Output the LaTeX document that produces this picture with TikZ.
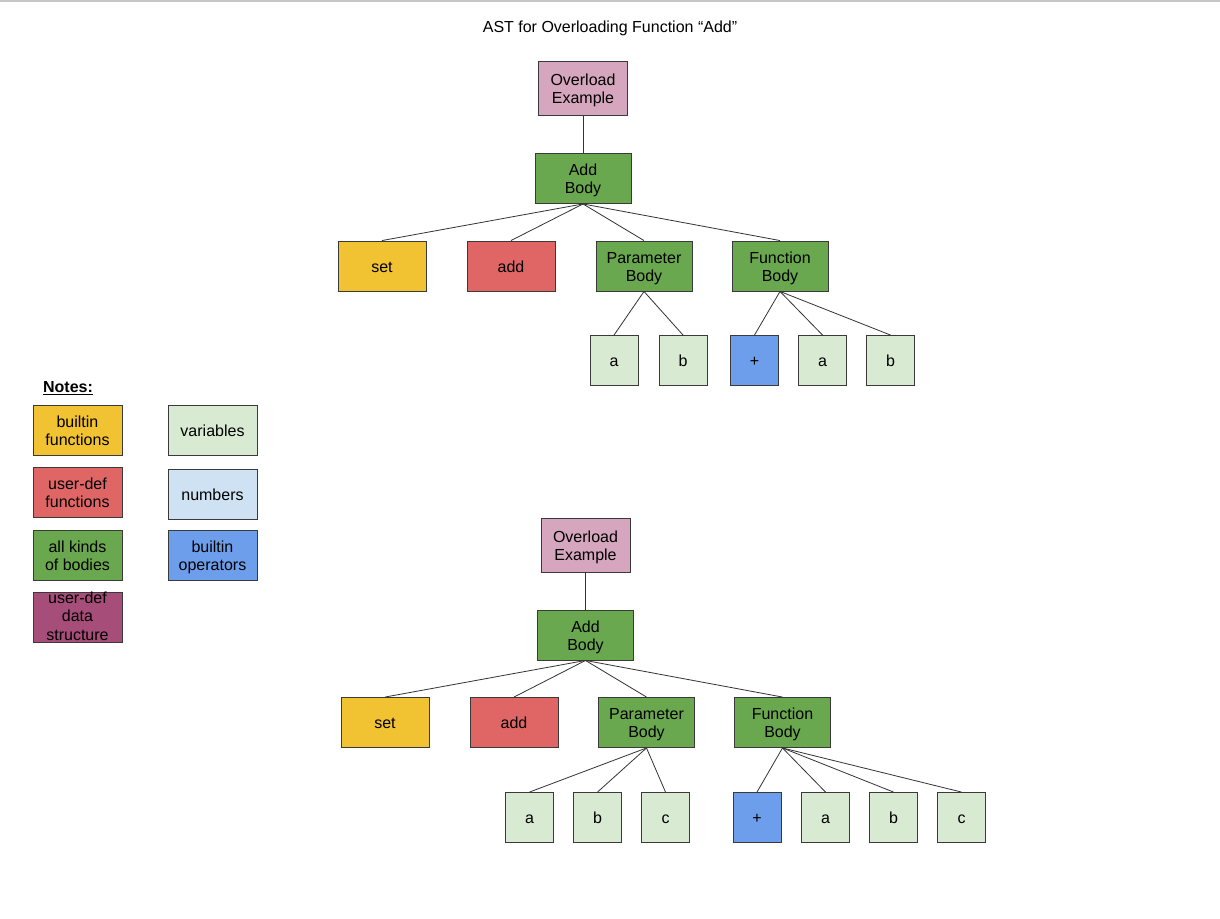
\documentclass[tikz,border=0pt]{standalone}
\usepackage{fontspec}
\setmainfont{Liberation Sans}
\definecolor{bordc}{HTML}{3A3A3A}
\definecolor{edgec}{HTML}{333333}
\definecolor{pinkc}{HTML}{D5A6BD}
\definecolor{greenc}{HTML}{6AA84F}
\definecolor{yellowc}{HTML}{F1C232}
\definecolor{redc}{HTML}{E06666}
\definecolor{varc}{HTML}{D9EAD3}
\definecolor{numc}{HTML}{CFE2F3}
\definecolor{opc}{HTML}{6D9EEB}
\definecolor{dsc}{HTML}{A64D79}
\tikzset{
  txt/.style={font=\fontsize{16}{18.4}\selectfont, text=black, align=center,
    inner sep=0pt, text height=14pt, text depth=1.5pt},
  twoline/.style={text height=32.3pt},
  threeline/.style={text height=46.5pt},
  box/.style={txt, draw=bordc, line width=0.9pt},
  big/.style={box, twoline, minimum width=89pt, minimum height=54pt},
  mid/.style={box, twoline, minimum width=96pt, minimum height=50pt},
  sm/.style={box, minimum width=88pt, minimum height=50pt},
  leaf/.style={box, minimum width=48pt, minimum height=50pt},
  leg/.style={box, minimum width=89pt, minimum height=50pt},
  edge/.style={draw=edgec, line width=0.8pt},
}
\begin{document}
\begin{tikzpicture}[x=1pt,y=-1pt]
\useasboundingbox[fill=white] (0,0) rectangle (1220,918);
\draw[gray!45, line width=1.5pt] (0,0.75) -- (1220,0.75);

\node[txt] (title) at (610,26) {AST for Overloading Function “Add”};

% ---------- top tree ----------
\node[big, fill=pinkc] (oe1) at (583,88) {Overload\\Example};
\node[mid, fill=greenc] (ab1) at (583,178.5) {Add\\Body};
\node[sm, fill=yellowc] (set1) at (382,266) {set};
\node[sm, fill=redc] (add1) at (511,266) {add};
\node[mid, fill=greenc] (pb1) at (644,266) {Parameter\\Body};
\node[mid, fill=greenc] (fb1) at (780,266) {Function\\Body};
\node[leaf, fill=varc] (pa1) at (614,360.5) {a};
\node[leaf, fill=varc] (pbb1) at (683,360.5) {b};
\node[leaf, fill=opc] (fp1) at (754.5,360.5) {+};
\node[leaf, fill=varc] (fa1) at (822.5,360.5) {a};
\node[leaf, fill=varc] (fbb1) at (890.5,360.5) {b};

\draw[edge] (oe1.south) -- (ab1.north);
\foreach \c in {set1,add1,pb1,fb1} \draw[edge] (ab1.south) -- (\c.north);
\foreach \c in {pa1,pbb1} \draw[edge] (pb1.south) -- (\c.north);
\foreach \c in {fp1,fa1,fbb1} \draw[edge] (fb1.south) -- (\c.north);

% ---------- bottom tree ----------
\node[big, fill=pinkc] (oe2) at (585.5,545) {Overload\\Example};
\node[mid, fill=greenc] (ab2) at (585.5,635) {Add\\Body};
\node[sm, fill=yellowc] (set2) at (385,722.5) {set};
\node[sm, fill=redc] (add2) at (514,722.5) {add};
\node[mid, fill=greenc] (pb2) at (646.5,722.5) {Parameter\\Body};
\node[mid, fill=greenc] (fb2) at (782.5,722.5) {Function\\Body};
\node[leaf, fill=varc] (pa2) at (529.5,817.5) {a};
\node[leaf, fill=varc] (pbb2) at (597.5,817.5) {b};
\node[leaf, fill=varc] (pc2) at (665.5,817.5) {c};
\node[leaf, fill=opc] (fp2) at (757,817.5) {+};
\node[leaf, fill=varc] (fa2) at (825.5,817.5) {a};
\node[leaf, fill=varc] (fbb2) at (893.5,817.5) {b};
\node[leaf, fill=varc] (fc2) at (961.5,817.5) {c};

\draw[edge] (oe2.south) -- (ab2.north);
\foreach \c in {set2,add2,pb2,fb2} \draw[edge] (ab2.south) -- (\c.north);
\foreach \c in {pa2,pbb2,pc2} \draw[edge] (pb2.south) -- (\c.north);
\foreach \c in {fp2,fa2,fbb2,fc2} \draw[edge] (fb2.south) -- (\c.north);

% ---------- legend ----------
\node[txt, font=\fontsize{16}{18.4}\selectfont\bfseries] (notes) at (68,386) {\underline{Notes:}};
\node[leg, twoline, fill=yellowc] (lbf) at (77.5,430.5) {builtin\\functions};
\node[leg, twoline, fill=redc] (luf) at (77.5,492.5) {user-def\\functions};
\node[leg, twoline, fill=greenc] (lab) at (77.5,555) {all kinds\\of bodies};
\node[leg, fill=dsc] (lds) at (77.5,617.5) {};
\node[txt, threeline] (ldst) at (lds.center) {user-def\\data\\structure};
\node[leg, fill=varc] (lvar) at (212.5,430.5) {variables};
\node[leg, fill=numc] (lnum) at (212.5,494.5) {numbers};
\node[leg, twoline, fill=opc] (lop) at (212.5,555) {builtin\\operators};
\end{tikzpicture}
\end{document}
